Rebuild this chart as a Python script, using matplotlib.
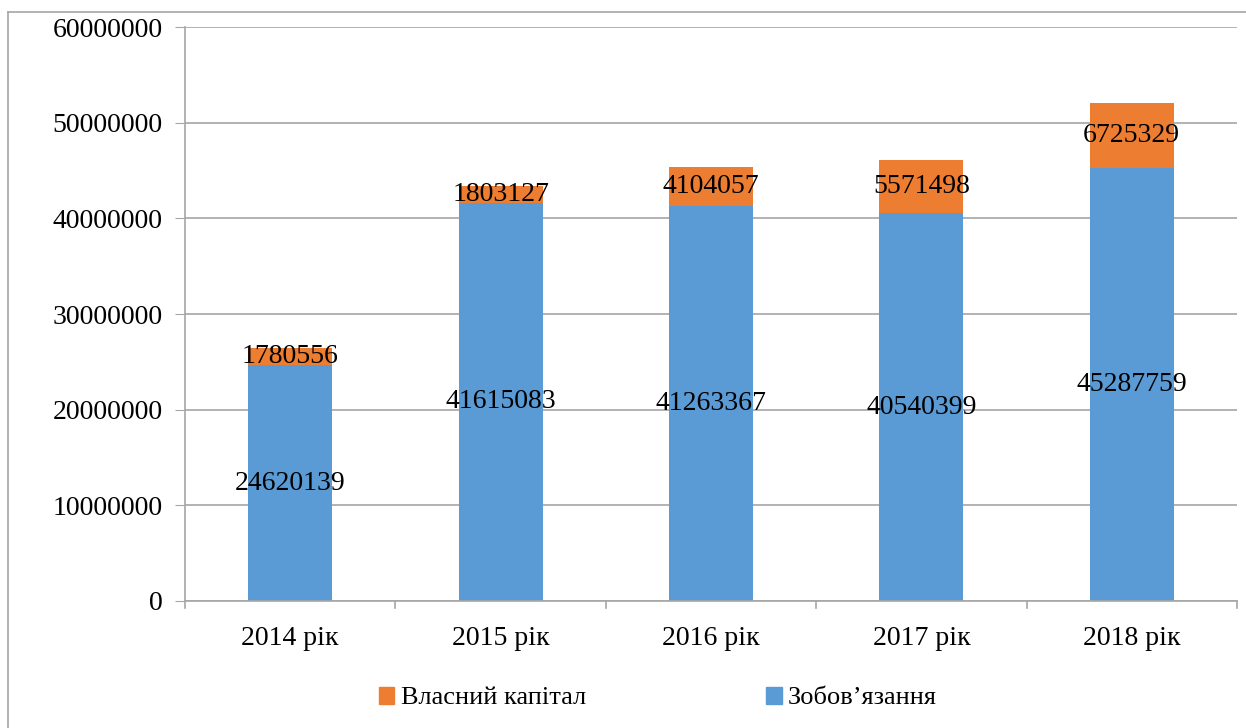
import matplotlib
matplotlib.use("Agg")
import matplotlib.pyplot as plt
from matplotlib.lines import Line2D
from matplotlib.patches import Patch

years = ["2014 рік", "2015 рік", "2016 рік", "2017 рік", "2018 рік"]
liabilities = [24620139, 41615083, 41263367, 40540399, 45287759]
equity = [1780556, 1803127, 4104057, 5571498, 6725329]
series_names = ["Власний капітал", "Зобов’язання"]

BLUE = "#5B9BD5"
ORANGE = "#ED7D31"
GRID = "#A6A6A6"
FS = 20

plt.rcParams["font.family"] = ["Liberation Serif", "DejaVu Serif"]

fig = plt.figure(figsize=(12.46, 7.28), dpi=100)
ax = fig.add_axes([185 / 1246, 127 / 728, 1052 / 1246, 574 / 728])

x = list(range(len(years)))
ax.bar(x, liabilities, width=0.4, color=BLUE, zorder=2)
ax.bar(x, equity, width=0.4, bottom=liabilities, color=ORANGE, zorder=2)

for i in x:
    ax.text(i, liabilities[i] / 2, str(liabilities[i]), ha="center", va="center",
            fontsize=FS, zorder=3)
    ax.text(i, liabilities[i] + equity[i] / 2, str(equity[i]), ha="center", va="center",
            fontsize=FS, zorder=3)

ax.set_xlim(-0.5, len(years) - 0.5)
ax.set_ylim(0, 60000000)
ax.set_yticks(range(0, 60000001, 10000000))
ax.set_yticklabels([str(v) for v in range(0, 60000001, 10000000)], fontsize=FS)
ax.set_xticks(x)
ax.set_xticklabels(years, fontsize=FS)
ax.yaxis.grid(True, color=GRID, linewidth=1.2, zorder=0)
ax.set_axisbelow(True)
for s in ["top", "right"]:
    ax.spines[s].set_visible(False)
for s in ["left", "bottom"]:
    ax.spines[s].set_color(GRID)
    ax.spines[s].set_linewidth(1.2)
ax.tick_params(axis="y", length=7, color=GRID, pad=9)
ax.tick_params(axis="x", length=0, pad=18)
# category separators on the x-axis
for b in [i - 0.5 for i in range(len(years) + 1)]:
    ax.plot([b, b], [0, -0.012], transform=ax.get_xaxis_transform(), color=GRID,
            linewidth=1.2, clip_on=False)

handles = [Patch(color=ORANGE), Patch(color=BLUE)]
fig.legend(handles, series_names, loc="center", bbox_to_anchor=(0.528, 0.041), ncol=2,
           frameon=False, fontsize=19, handlelength=0.6, handleheight=0.6,
           handletextpad=0.25, columnspacing=6.8)

# chart frame
fig.add_artist(Line2D([8 / 1246, 1], [1 - 12 / 728, 1 - 12 / 728], transform=fig.transFigure,
                      color=GRID, linewidth=1.2))
fig.add_artist(Line2D([8 / 1246, 8 / 1246], [0, 1 - 12 / 728], transform=fig.transFigure,
                      color=GRID, linewidth=1.2))

fig.savefig("out.png", dpi=100)
